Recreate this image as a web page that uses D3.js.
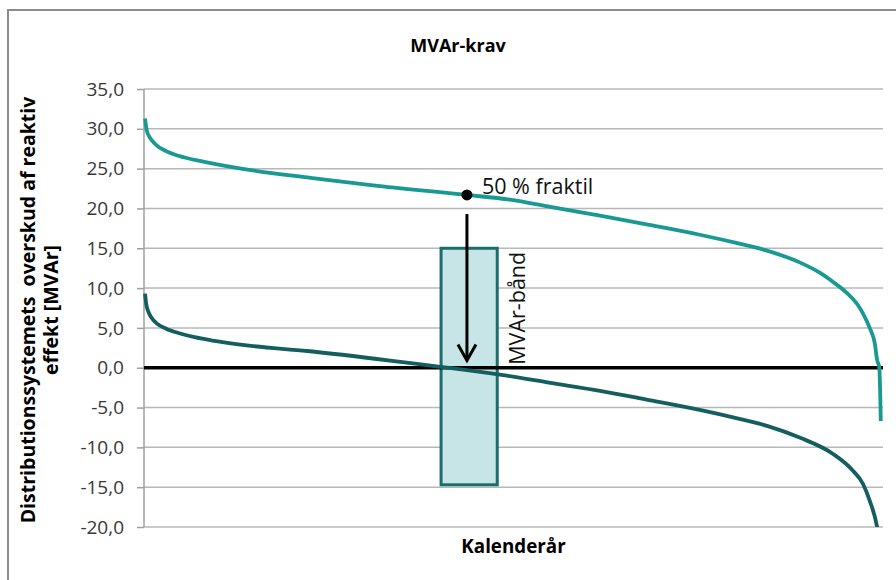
<!DOCTYPE html>
<html><head><meta charset="utf-8">
<script src="https://cdn.jsdelivr.net/npm/d3@7/dist/d3.min.js"></script>
<style>body{margin:0;background:#fff}svg{display:block}text{font-family:"Open Sans",sans-serif}</style>
</head><body><svg id="c" width="896" height="580"></svg>
<script>
// ---- data ----
const title = "MVAr-krav";
const yTitleLines = ["Distributionssystemets  overskud af reaktiv", "effekt [MVAr]"];
const xTitle = "Kalenderår";
const yTicks = [-20, -15, -10, -5, 0, 5, 10, 15, 20, 25, 30, 35];
// share of the calendar year (%) and surplus values (MVAr)
const upperShare = [0.14, 0.37, 0.8, 1.5, 3.0, 5.5, 8.5, 15.3, 22.1, 31.0, 43.7, 49.5, 55.0, 61.7, 68.0, 75.2, 80.0, 84.3, 88.8, 91.5, 93.2, 95.1, 96.5, 97.3, 98.2, 98.9, 99.2, 99.5, 99.7];
const upperValues = [31.3, 29.8, 28.9, 28.1, 27.2, 26.4, 25.8, 24.7, 23.9, 22.9, 21.7, 21.1, 20.2, 19.1, 18.0, 16.7, 15.7, 14.7, 13.2, 11.9, 10.8, 9.4, 8.0, 6.8, 5.0, 3.0, 1.0, 0.0, -6.7];
const lowerShare = [0.14, 0.3, 0.6, 1.0, 1.8, 3.0, 4.9, 7.0, 9.3, 13.9, 22.1, 33.3, 40.1, 43.7, 49.1, 55.0, 61.7, 68.0, 75.2, 80.0, 84.3, 88.8, 93.2, 95.9, 97.3, 98.2, 99.2, 99.5, 99.7];
const lowerValues = [9.3, 8.0, 7.0, 6.3, 5.5, 4.9, 4.3, 3.8, 3.4, 2.8, 2.1, 0.9, 0.1, -0.3, -1.0, -1.9, -2.9, -4.0, -5.3, -6.3, -7.3, -8.8, -10.8, -12.9, -14.6, -16.7, -20.0, -21.8, -28.5];
const bandShare = [40.2, 47.8];
const bandValues = [-14.7, 15.0];
const quantileShare = 43.7, quantileValue = 21.7;
const arrowValues = [19.3, 0.9];
const quantileLabel = "50 % fraktil";
const bandLabel = "MVAr-bånd";

// ---- chart ----
const svg = d3.select("#c");
const x = d3.scaleLinear().domain([0, 100]).range([144, 883]);
const y = d3.scaleLinear().domain([-20, 35]).range([527, 89]);
const loc = d3.formatLocale({decimal: ",", thousands: ".", grouping: [3], currency: ["", ""], minus: "-"});
const fmt = loc.format(".1f");

const defs = svg.append("defs");
defs.append("clipPath").attr("id", "plot").append("rect")
  .attr("x", 140).attr("y", 89).attr("width", 750).attr("height", 438);
const f = defs.append("filter").attr("id", "sh").attr("x", "-5%").attr("y", "-200%").attr("width", "110%").attr("height", "500%");
f.append("feGaussianBlur").attr("stdDeviation", 2);

// frame
svg.append("rect").attr("x", 8).attr("y", 10).attr("width", 950).attr("height", 650)
  .attr("fill", "none").attr("stroke", "#8c8c8c").attr("stroke-width", 2);

// gridlines
svg.append("g").selectAll("line").data(yTicks).join("line")
  .attr("x1", 144).attr("x2", 883).attr("y1", d => y(d)).attr("y2", d => y(d))
  .attr("stroke", "#b8b8b8").attr("stroke-width", 1.5);

// y axis
const ya = svg.append("g").attr("transform", "translate(144,0)")
  .call(d3.axisLeft(y).tickValues(yTicks).tickFormat(fmt).tickSize(7).tickPadding(13));
ya.select(".domain").attr("stroke", "#a0a0a0").attr("stroke-width", 1.5).attr("d", "M0," + y(-20) + "V" + y(35));
ya.selectAll(".tick line").attr("stroke", "#a0a0a0").attr("stroke-width", 1.5);
ya.selectAll(".tick text").attr("font-family", "Open Sans").attr("font-size", 19).attr("fill", "#383838");

// band
svg.append("rect")
  .attr("x", x(bandShare[0])).attr("width", x(bandShare[1]) - x(bandShare[0]))
  .attr("y", y(bandValues[1])).attr("height", y(bandValues[0]) - y(bandValues[1]))
  .attr("fill", "#c7e4e6").attr("stroke", "#1c6d6c").attr("stroke-width", 3);

// zero line w/ shadow
svg.append("line").attr("x1", x(0)).attr("x2", x(100)).attr("y1", y(0) + 3).attr("y2", y(0) + 3)
  .attr("stroke", "#999").attr("stroke-width", 3).attr("filter", "url(#sh)").attr("opacity", 0.8);
svg.append("line").attr("x1", x(0)).attr("x2", x(100)).attr("y1", y(0)).attr("y2", y(0))
  .attr("stroke", "#000").attr("stroke-width", 3.5);

// curves
const line = d3.line().x(d => x(d[0])).y(d => y(d[1])).curve(d3.curveMonotoneX);
const g = svg.append("g").attr("clip-path", "url(#plot)");
g.append("path").datum(d3.zip(upperShare, upperValues)).attr("d", line)
  .attr("fill", "none").attr("stroke", "#189a92").attr("stroke-width", 3.8).attr("stroke-linejoin", "round");
g.append("path").datum(d3.zip(lowerShare, lowerValues)).attr("d", line)
  .attr("fill", "none").attr("stroke", "#145e60").attr("stroke-width", 3.8).attr("stroke-linejoin", "round");

// arrow
const ax = x(quantileShare);
svg.append("line").attr("x1", ax).attr("x2", ax).attr("y1", y(arrowValues[0])).attr("y2", y(arrowValues[1]) - 1)
  .attr("stroke", "#000").attr("stroke-width", 3);
svg.append("path").attr("d", `M${ax - 9},${y(arrowValues[1]) - 16}L${ax},${y(arrowValues[1])}L${ax + 9},${y(arrowValues[1]) - 16}`)
  .attr("fill", "none").attr("stroke", "#000").attr("stroke-width", 3).attr("stroke-linejoin", "miter");

// quantile dot & label
svg.append("circle").attr("cx", x(quantileShare)).attr("cy", y(quantileValue)).attr("r", 5.5).attr("fill", "#000");
svg.append("text").attr("x", x(quantileShare) + 15).attr("y", y(quantileValue) - 1)
  .attr("font-size", 21.5).attr("fill", "#111").text(quantileLabel);

// band label (rotated)
svg.append("text").attr("transform", `translate(${x(bandShare[1]) + 28},${y(0) - 3}) rotate(-90)`)
  .attr("font-size", 21.5).attr("fill", "#111").text(bandLabel);

// titles
svg.append("text").attr("x", 458).attr("y", 52).attr("text-anchor", "middle")
  .attr("font-size", 18).attr("font-weight", "bold").attr("fill", "#000").text(title);
svg.append("text").attr("x", (x(0) + x(100)) / 2).attr("y", 553).attr("text-anchor", "middle")
  .attr("font-size", 18.8).attr("font-weight", "bold").attr("fill", "#000").text(xTitle);
const yt = svg.append("text").attr("transform", "translate(0,310) rotate(-90)")
  .attr("text-anchor", "middle").attr("font-size", 19.5).attr("font-weight", "bold").attr("fill", "#000");
yTitleLines.forEach((t, i) => yt.append("tspan").attr("x", 0).attr("y", 35 + i * 23).attr("xml:space", "preserve").text(t));
</script></body></html>
